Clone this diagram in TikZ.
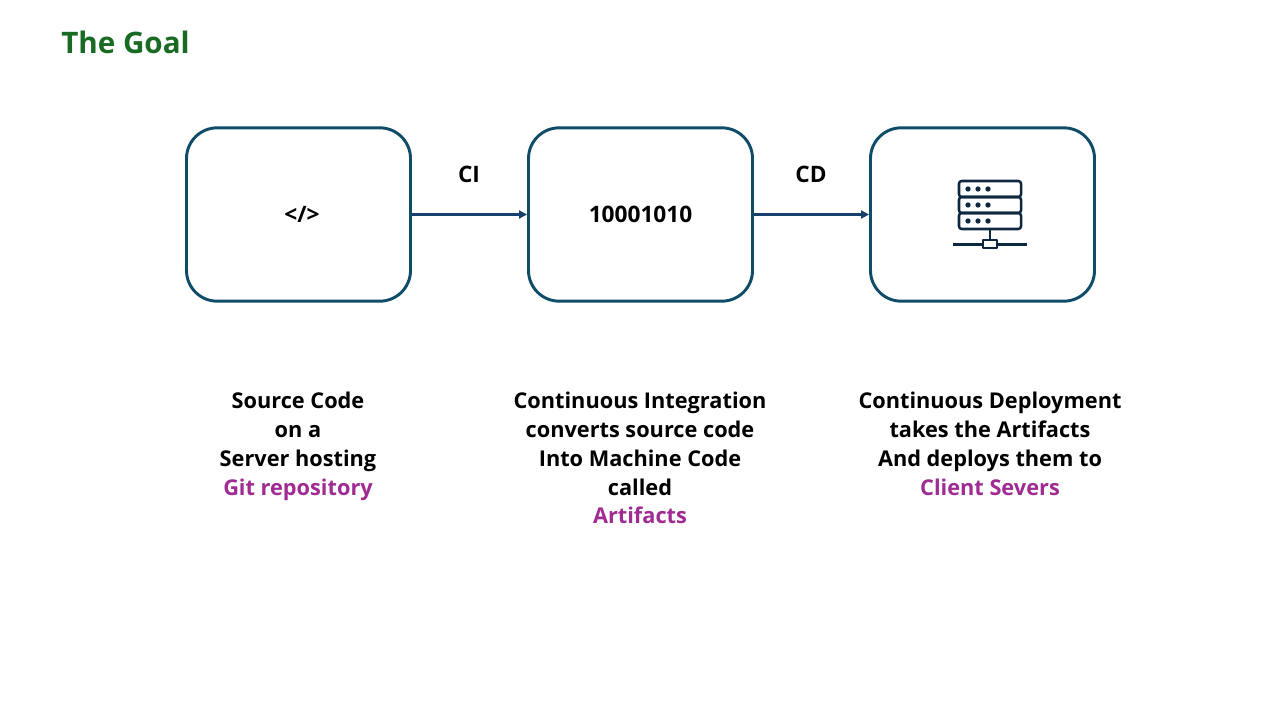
\documentclass[tikz,border=0pt]{standalone}
\usepackage{fontspec}
\setmainfont{Open Sans}
\usetikzlibrary{arrows.meta}
\definecolor{boxc}{HTML}{0F4C68}
\definecolor{arrc}{HTML}{17406D}
\definecolor{goal}{HTML}{196B24}
\definecolor{pur}{HTML}{A02B93}
\definecolor{ico}{HTML}{0E2841}
\tikzset{x=0.75pt,y=-0.75pt,
 box/.style={draw=boxc,line width=2.2pt,rounded corners=23pt,minimum width=168pt,minimum height=130pt,inner sep=0pt},
 lab/.style={font=\fontsize{16.3}{21.6}\selectfont\bfseries,align=center,text=black,inner sep=0pt,anchor=north},
 small/.style={font=\fontsize{17}{18}\selectfont\bfseries,text=black,inner sep=0pt},
 conn/.style={draw=arrc,line width=2pt,-{Triangle[length=6pt,width=6pt]}},
 icon/.style={draw=ico,line width=1.9pt,line join=round},
 dotc/.style={fill=ico,circle,minimum size=4pt,inner sep=0pt}}
\newcommand{\pur}[1]{\textcolor{pur}{#1}}
\begin{document}
\begin{tikzpicture}
\useasboundingbox (0,0) rectangle (1280,720);
\fill[white] (0,0) rectangle (1280,720);
\node[anchor=west,inner sep=0pt,text=goal,font=\fontsize{22.2}{26}\selectfont\bfseries] (title) at (61,42.5) {The Goal};
\node[box] (a) at (298.5,214.5) {};
\node[box] (b) at (640.5,214.5) {};
\node[box] (c) at (982.5,214.5) {};
\node[small] (at) at (302,214.5) {</>};
\node[small] (bt) at (640.5,214.5) {10001010};
\node[small] (ci) at (469,174.5) {CI};
\node[small] (cd) at (811,174.5) {CD};
\draw[conn] (a.east) -- (b.west);
\draw[conn] (b.east) -- (c.west);
\node[lab] (l1) at (298,392) {Source Code\\on a\\Server hosting\\\pur{Git repository}};
\node[lab] (l2) at (640,392) {Continuous Integration\\converts source code\\Into Machine Code\\called\\\pur{Artifacts}};
\node[lab] (l3) at (990,392) {Continuous Deployment\\takes the Artifacts\\And deploys them to\\\pur{Client Severs}};
% server icon
\draw[icon,rounded corners=2pt] (959,181) rectangle (1021,197);
\draw[icon,rounded corners=2pt] (959,197) rectangle (1021,213);
\draw[icon,rounded corners=2pt] (959,213) rectangle (1021,229);
\foreach \y in {189,205,221}\foreach \x in {968,978,988}
  \node[dotc] at (\x,\y) {};
\draw[icon] (990,229) -- (990,240);
\draw[icon] (953,244.5) -- (983,244.5);
\draw[icon] (997,244.5) -- (1027,244.5);
\draw[icon] (983,240) rectangle (997,248);
\end{tikzpicture}
\end{document}
